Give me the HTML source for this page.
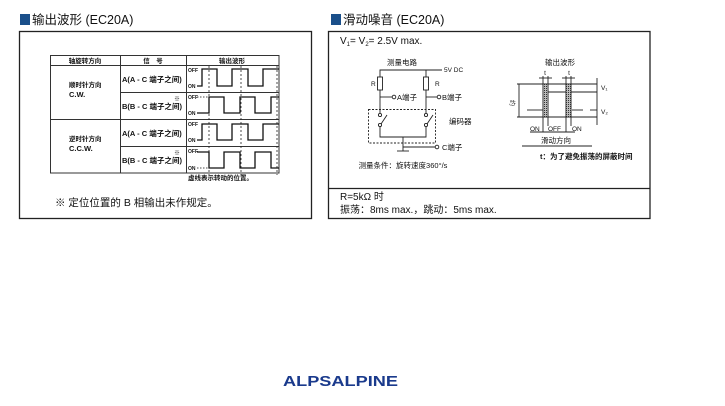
<!DOCTYPE html>
<html><head><meta charset="utf-8"><style>
html,body{margin:0;padding:0;background:#fff;width:725px;height:406px;overflow:hidden}
svg{display:block}
text{font-family:"Liberation Sans","Noto Sans CJK SC",sans-serif;fill:#111}
</style></head><body>
<svg width="725" height="406" viewBox="0 0 725 406" xmlns="http://www.w3.org/2000/svg">
<defs><pattern id="h" width="2" height="2" patternUnits="userSpaceOnUse"><rect width="2" height="2" fill="#bbb"/><rect width="1" height="1" fill="#333"/></pattern></defs>
<rect x="20" y="14" width="10" height="11" fill="#1a4f8a"/>
<text x="32" y="24" font-size="12.5">输出波形 (EC20A)</text>
<rect x="331" y="14" width="10" height="11" fill="#1a4f8a"/>
<text x="343" y="24" font-size="12.5">滑动噪音 (EC20A)</text>
<rect x="19.5" y="31.5" width="292" height="187" fill="none" stroke="#222" stroke-width="1.3"/>
<g stroke="#333" fill="none" stroke-width="1">
<rect x="50.5" y="55.5" width="228.5" height="117.5"/>
<line x1="50" y1="65.5" x2="279" y2="65.5"/>
<line x1="120.5" y1="55" x2="120.5" y2="173"/>
<line x1="186.5" y1="55" x2="186.5" y2="173"/>
<line x1="50" y1="119.5" x2="279" y2="119.5"/>
<line x1="120" y1="92.5" x2="279" y2="92.5"/>
<line x1="120" y1="146.5" x2="279" y2="146.5"/>
</g>
<g font-size="6.5" font-weight="bold">
<text x="85" y="63" text-anchor="middle">轴旋转方向</text>
<text x="153" y="63" text-anchor="middle">信　号</text>
<text x="232" y="63" text-anchor="middle">输出波形</text>
<text x="69" y="87">顺时针方向</text>
<text x="69" y="97" font-size="7.5">C.W.</text>
<text x="69" y="141">逆时针方向</text>
<text x="69" y="151" font-size="7.5">C.C.W.</text>
<text x="122" y="82" font-size="7.5">A(A - C 端子之间)</text>
<text x="122" y="109" font-size="7.5">B(B - C 端子之间)</text>
<text x="122" y="136" font-size="7.5">A(A - C 端子之间)</text>
<text x="122" y="163" font-size="7.5">B(B - C 端子之间)</text>
<text x="174" y="101" font-size="6">※</text>
<text x="174" y="155" font-size="6">※</text>
<g font-size="5">
<text x="188" y="72">OFF</text><text x="188" y="88">ON</text>
<text x="188" y="99">OFF</text><text x="188" y="115">ON</text>
<text x="188" y="126">OFF</text><text x="188" y="142">ON</text>
<text x="188" y="153">OFF</text><text x="188" y="170">ON</text>
</g>
</g>
<g stroke="#222" stroke-dasharray="2,2" stroke-width="0.8">
<line x1="209" y1="66" x2="209" y2="175"/><line x1="241" y1="66" x2="241" y2="175"/><line x1="277" y1="66" x2="277" y2="175"/>
</g>
<g stroke="#111" fill="none" stroke-width="1.3">
<polyline points="197,86 202,86 202,69 217,69 217,86 232,86 232,69 248,69 248,86 263,86 263,69 279,69"/>
<polyline points="197,113 209,113 209,97 224,97 224,113 240,113 240,97 255,97 255,113 271,113 271,97 279,97"/>
<polyline points="197,140 202,140 202,124 217,124 217,140 232,140 232,124 248,124 248,140 263,140 263,124 279,124"/>
<polyline points="197,152 209,152 209,168 224,168 224,152 240,152 240,168 255,168 255,152 271,152 271,168 279,168"/>
</g>
<g stroke="#111" stroke-dasharray="1.5,1.5" stroke-width="0.8"><line x1="197" y1="97" x2="208" y2="97"/><line x1="197" y1="168" x2="208" y2="168"/></g>
<text x="188" y="180" font-size="6.5" font-weight="bold">虚线表示转动的位置。</text>
<text x="55" y="206" font-size="10.5">※ 定位位置的 B 相输出未作规定。</text>
<rect x="328.5" y="31.5" width="321.5" height="187" fill="none" stroke="#222" stroke-width="1.3"/>
<line x1="328" y1="188.5" x2="650" y2="188.5" stroke="#222" stroke-width="1.3"/>
<text x="340" y="44" font-size="10">V<tspan font-size="6" dy="2">1</tspan><tspan dy="-2">= V</tspan><tspan font-size="6" dy="2">2</tspan><tspan dy="-2">= 2.5V max.</tspan></text>
<text x="340" y="200" font-size="10">R=5kΩ 时</text>
<text x="340" y="213" font-size="10">振荡：8ms max.，跳动：5ms max.</text>
<g font-size="7.5">
<text x="402" y="65" text-anchor="middle">测量电路</text>
<text x="444" y="72" font-size="6.5">5V DC</text>
<text x="371" y="86" font-size="6.5">R</text><text x="435" y="86" font-size="6.5">R</text>
<text x="397" y="100">A端子</text><text x="442" y="100">B端子</text>
<text x="449" y="124">编码器</text>
<text x="442" y="150">C端子</text>
<text x="403" y="168" text-anchor="middle">测量条件：旋转速度360°/s</text>
</g>
<g stroke="#222" fill="none" stroke-width="0.9">
<polyline points="380,77 380,70 442,70"/><line x1="426" y1="70" x2="426" y2="77"/>
<rect x="377.5" y="77" width="5" height="13"/><rect x="423.5" y="77" width="5" height="13"/>
<polyline points="380,90 380,113"/><polyline points="426,90 426,113"/>
<line x1="380" y1="97" x2="392" y2="97"/><circle cx="394" cy="97" r="1.8"/>
<line x1="426" y1="97" x2="437" y2="97"/><circle cx="439" cy="97" r="1.8"/>
<circle cx="380" cy="115" r="1.6"/><circle cx="380" cy="125" r="1.6"/><line x1="381" y1="124" x2="387" y2="115"/>
<circle cx="426" cy="115" r="1.6"/><circle cx="426" cy="125" r="1.6"/><line x1="427" y1="124" x2="433" y2="115"/>
<polyline points="380,127 380,137 426,137 426,127"/>
<line x1="403" y1="137" x2="403" y2="151"/><line x1="397" y1="151" x2="409" y2="151"/>
<line x1="403" y1="147" x2="435" y2="147"/><circle cx="437" cy="147" r="1.8"/>
<rect x="368.5" y="109.5" width="67" height="33.5" stroke-dasharray="2,1.5"/>
</g>
<text x="560" y="65" text-anchor="middle" font-size="7.5">输出波形</text>
<g stroke="#222" fill="none" stroke-width="0.9">
<line x1="517" y1="84" x2="597" y2="84"/><line x1="517" y1="117" x2="597" y2="117"/>
<line x1="548" y1="92" x2="597" y2="92"/>
<line x1="527" y1="110" x2="543" y2="110"/><line x1="572" y1="110" x2="583" y2="110"/><line x1="590" y1="110" x2="597" y2="110"/>
<line x1="519" y1="84" x2="519" y2="117"/>
<line x1="597" y1="78" x2="597" y2="125"/>
<line x1="543" y1="76" x2="543" y2="132"/><line x1="548" y1="76" x2="548" y2="126"/>
<line x1="566" y1="76" x2="566" y2="132"/><line x1="571" y1="76" x2="571" y2="126"/>
<line x1="539" y1="78" x2="552" y2="78"/><line x1="562" y1="78" x2="575" y2="78"/>
<line x1="530" y1="132" x2="575" y2="132"/>
<line x1="522" y1="146" x2="592" y2="146"/>
</g>
<rect x="543" y="84" width="5" height="33" fill="url(#h)" stroke="#222" stroke-width="0.6"/>
<rect x="566" y="84" width="5" height="33" fill="url(#h)" stroke="#222" stroke-width="0.6"/>
<g font-size="6.5">
<text x="545" y="75" text-anchor="middle">t</text><text x="569" y="75" text-anchor="middle">t</text>
<text x="601" y="90">V₁</text><text x="601" y="114">V₂</text>
<text x="513" y="103" transform="rotate(90 513 100)" font-size="6">约</text>
<text x="530" y="131">ON</text><text x="548" y="131">OFF</text><text x="572" y="131">ON</text>
<text x="556" y="143" text-anchor="middle" font-size="7.5">滑动方向</text>
<text x="540" y="159" font-size="7.5" font-weight="bold">t：为了避免振荡的屏蔽时间</text>
</g>
<text x="283" y="386" font-size="15" font-weight="bold" style="fill:#1a3a8c" textLength="115" lengthAdjust="spacingAndGlyphs">ALPSALPINE</text>
</svg>
</body></html>
